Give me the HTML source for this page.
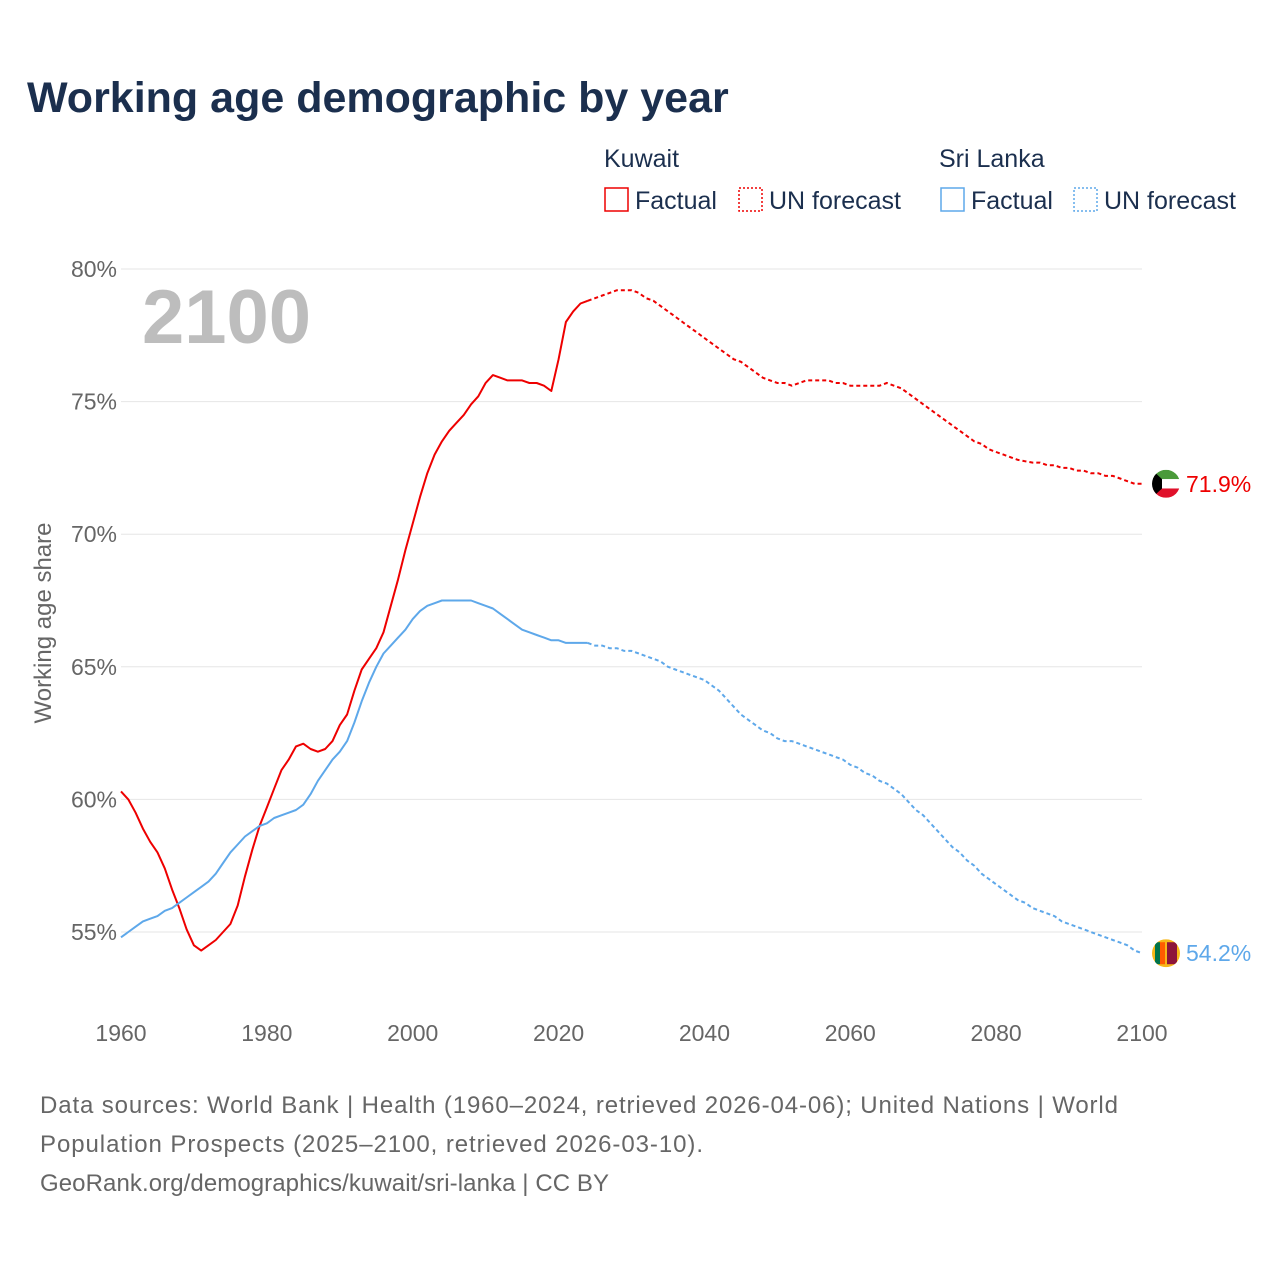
<!DOCTYPE html>
<html><head><meta charset="utf-8"><style>
body{margin:0;background:#fff;font-family:"Liberation Sans",sans-serif;}
#wrap{position:relative;width:1280px;height:1280px;overflow:hidden;}
</style></head><body>
<div id="wrap">
<svg id="chart" width="1280" height="1280" font-family="Liberation Sans, sans-serif">
<text x="27" y="112" font-size="43" font-weight="bold" fill="#1b2f4e">Working age demographic by year</text>
<g font-size="25" fill="#1b2f4e">
<text x="604" y="167">Kuwait</text>
<rect x="605" y="188" width="23" height="23" fill="none" stroke="#ee0000" stroke-width="1.5"/>
<text x="635" y="209">Factual</text>
<rect x="739" y="188" width="23" height="23" fill="none" stroke="#ee0000" stroke-width="1.5" stroke-dasharray="2,2"/>
<text x="769" y="209">UN forecast</text>
<text x="939" y="167">Sri Lanka</text>
<rect x="941" y="188" width="23" height="23" fill="none" stroke="#5ea8ea" stroke-width="1.5"/>
<text x="971" y="209">Factual</text>
<rect x="1074" y="188" width="23" height="23" fill="none" stroke="#5ea8ea" stroke-width="1.5" stroke-dasharray="2,2"/>
<text x="1104" y="209">UN forecast</text>
</g>
<text x="142" y="343" font-size="76" font-weight="bold" fill="#bdbdbd">2100</text>
<text transform="translate(51,623) rotate(-90)" text-anchor="middle" font-size="24" fill="#666">Working age share</text>
<g id="grid"></g><g id="xt"></g><g id="lines"></g>
<text x="40" y="1113" font-size="24" fill="#666" textLength="1078">Data sources: World Bank | Health (1960–2024, retrieved 2026-04-06); United Nations | World</text>
<text x="40" y="1152" font-size="24" fill="#666" textLength="663">Population Prospects (2025–2100, retrieved 2026-03-10).</text>
<text x="40" y="1191" font-size="24" fill="#666" textLength="569">GeoRank.org/demographics/kuwait/sri-lanka | CC BY</text>
</svg></div>
<script>
const yTicks=[55,60,65,70,75,80];
const xTicks=[1960,1980,2000,2020,2040,2060,2080,2100];
const startYear=1960;
const lastFactualYear=2024;
const kuwait=[60.3,60.0,59.5,58.9,58.4,58.0,57.4,56.6,55.9,55.1,54.5,54.3,54.5,54.7,55.0,55.3,56.0,57.1,58.1,59.0,59.7,60.4,61.1,61.5,62.0,62.1,61.9,61.8,61.9,62.2,62.8,63.2,64.1,64.9,65.3,65.7,66.3,67.3,68.3,69.4,70.4,71.4,72.3,73.0,73.5,73.9,74.2,74.5,74.9,75.2,75.7,76.0,75.9,75.8,75.8,75.8,75.7,75.7,75.6,75.4,76.6,78.0,78.4,78.7,78.8,78.9,79.0,79.1,79.2,79.2,79.2,79.1,78.9,78.8,78.6,78.4,78.2,78.0,77.8,77.6,77.4,77.2,77.0,76.8,76.6,76.5,76.3,76.1,75.9,75.8,75.7,75.7,75.6,75.7,75.8,75.8,75.8,75.8,75.7,75.7,75.6,75.6,75.6,75.6,75.6,75.7,75.6,75.5,75.3,75.1,74.9,74.7,74.5,74.3,74.1,73.9,73.7,73.5,73.4,73.2,73.1,73.0,72.9,72.8,72.75,72.7,72.7,72.6,72.6,72.5,72.5,72.4,72.4,72.3,72.3,72.2,72.2,72.1,72.0,71.9,71.9];
const sriLanka=[54.8,55.0,55.2,55.4,55.5,55.6,55.8,55.9,56.1,56.3,56.5,56.7,56.9,57.2,57.6,58.0,58.3,58.6,58.8,59.0,59.1,59.3,59.4,59.5,59.6,59.8,60.2,60.7,61.1,61.5,61.8,62.2,62.9,63.7,64.4,65.0,65.5,65.8,66.1,66.4,66.8,67.1,67.3,67.4,67.5,67.5,67.5,67.5,67.5,67.4,67.3,67.2,67.0,66.8,66.6,66.4,66.3,66.2,66.1,66.0,66.0,65.9,65.9,65.9,65.9,65.8,65.8,65.7,65.7,65.6,65.6,65.5,65.4,65.3,65.2,65.0,64.9,64.8,64.7,64.6,64.5,64.3,64.1,63.8,63.5,63.2,63.0,62.8,62.6,62.5,62.3,62.2,62.2,62.1,62.0,61.9,61.8,61.7,61.6,61.5,61.3,61.2,61.0,60.9,60.7,60.6,60.4,60.2,59.9,59.6,59.4,59.1,58.8,58.5,58.2,58.0,57.7,57.5,57.2,57.0,56.8,56.6,56.4,56.2,56.1,55.9,55.8,55.7,55.6,55.4,55.3,55.2,55.1,55.0,54.9,54.8,54.7,54.6,54.5,54.3,54.2];
const NS='http://www.w3.org/2000/svg';
const X=y=>121+(y-1960)*(1021/140);
const Y=v=>269+(80-v)*(663/25);
function mk(tag,at,parent){const e=document.createElementNS(NS,tag);for(const k in at)e.setAttribute(k,at[k]);parent.appendChild(e);return e;}
const grid=document.getElementById('grid'),xt=document.getElementById('xt'),lines=document.getElementById('lines');
yTicks.forEach(t=>{
 const l=mk('line',{x1:121,x2:1142,y1:Y(t),y2:Y(t),stroke:'#e6e6e6','stroke-width':1},grid);
 
 
 const tx=mk('text',{x:117,y:Y(t)+8,'text-anchor':'end','font-size':23,fill:'#666'},grid);
 tx.textContent=t+'%';
 
 
});
xTicks.forEach(t=>{
 const tx=mk('text',{x:X(t),y:1041,'text-anchor':'middle','font-size':23,fill:'#666'},xt);
 tx.textContent=t;
 
 
});
function series(arr,color,name){
 const cut=lastFactualYear-startYear;
 const f=arr.slice(0,cut+1).map((v,i)=>X(startYear+i).toFixed(1)+','+Y(v).toFixed(1)).join(' ');
 const p=arr.slice(cut).map((v,i)=>X(lastFactualYear+i).toFixed(1)+','+Y(v).toFixed(1)).join(' ');
 const a=mk('polyline',{points:f,fill:'none',stroke:color,'stroke-width':2,'stroke-linejoin':'round'},lines);
 
 
 const b=mk('polyline',{points:p,fill:'none',stroke:color,'stroke-width':2,'stroke-dasharray':'4,3'},lines);
 
 
 const last=arr[arr.length-1];
 const t=mk('text',{x:1186,y:Y(last)+8,'font-size':23,fill:color},lines);
 t.textContent=last.toFixed(1)+'%';
 
 
 return Y(last);
}
const ky=series(kuwait,'#ee0000','kuwait');
const sy=series(sriLanka,'#5ea8ea','sri-lanka');
const cx=1166,r=14;
let defs=mk('defs',{},lines);
let c1=mk('clipPath',{id:'ck'},defs);mk('circle',{cx:cx,cy:ky,r:r},c1);
let c2=mk('clipPath',{id:'cs'},defs);mk('circle',{cx:cx,cy:sy,r:r},c2);
let kf=mk('g',{'clip-path':'url(#ck)'},lines);


mk('rect',{x:cx-r,y:ky-r,width:2*r,height:2*r/3,fill:'#4a9a3a'},kf);
mk('rect',{x:cx-r,y:ky-r/3,width:2*r,height:2*r/3,fill:'#fff'},kf);
mk('rect',{x:cx-r,y:ky+r/3,width:2*r,height:2*r/3,fill:'#e0102a'},kf);
mk('polygon',{points:`${cx-r},${ky-r} ${cx-r+10},${ky-r/3} ${cx-r+10},${ky+r/3} ${cx-r},${ky+r}`,fill:'#000'},kf);
let sf=mk('g',{'clip-path':'url(#cs)'},lines);


mk('rect',{x:cx-r,y:sy-r,width:2*r,height:2*r,fill:'#f7b718'},sf);
mk('rect',{x:cx-r+3,y:sy-r+3,width:5,height:2*r-6,fill:'#00734a'},sf);
mk('rect',{x:cx-r+8,y:sy-r+3,width:5,height:2*r-6,fill:'#ff5b00'},sf);
mk('rect',{x:cx-r+15,y:sy-r+3,width:2*r-18,height:2*r-6,fill:'#8d153a'},sf);
</script>
</body></html>
